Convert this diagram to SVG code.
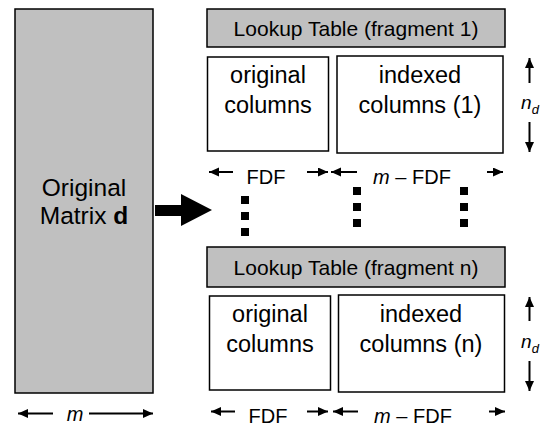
<svg xmlns="http://www.w3.org/2000/svg" width="546" height="426" viewBox="0 0 546 426">
<defs>
<style>
.box{fill:#fff;stroke:#000;stroke-width:1.5}
.gray{fill:#c0c0c0;stroke:#000;stroke-width:1.5}
.t{font-family:"Liberation Sans",Arial,sans-serif;fill:#000;text-anchor:middle}
.big{font-size:23.5px}
.lt{font-size:21px}
.dim{font-size:20px}
.ln{stroke:#000;stroke-width:2;fill:none;marker-end:url(#ah)}
.dot{fill:#000}
</style>
<marker id="ah" markerUnits="userSpaceOnUse" markerWidth="12" markerHeight="10" refX="10" refY="4.5" orient="auto">
<path d="M0,0 L10,4.5 L0,9 Z" fill="#000"/>
</marker>
</defs>

<g id="matrix">
<rect class="gray" x="15" y="9" width="138" height="384"/>
<text class="t" x="84" y="196" style="font-size:24.5px">Original</text>
<text class="t" x="84" y="224" style="font-size:24.5px">Matrix <tspan font-weight="bold">d</tspan></text>
</g>

<g id="arrow-main">
<polygon points="155,205 181,205 181,194 212,210 181,226 181,216 155,216" fill="#000"/>
</g>

<g id="lookup1">
<rect class="gray" x="207" y="9" width="298" height="38"/>
<text class="t lt" x="356" y="36">Lookup Table (fragment 1)</text>
</g>
<g id="orig1">
<rect class="box" x="207.5" y="57" width="121" height="94"/>
<text class="t big" x="268" y="83">original</text>
<text class="t big" x="268" y="113">columns</text>
</g>
<g id="idx1">
<rect class="box" x="337" y="56" width="166" height="97"/>
<text class="t big" x="420" y="83">indexed</text>
<text class="t big" x="420" y="113">columns (1)</text>
</g>

<g id="lookupn">
<rect class="gray" x="207" y="247" width="298" height="40"/>
<text class="t lt" x="356" y="275">Lookup Table (fragment n)</text>
</g>
<g id="orign">
<rect class="box" x="209.5" y="296" width="121" height="94"/>
<text class="t big" x="270" y="322">original</text>
<text class="t big" x="270" y="352">columns</text>
</g>
<g id="idxn">
<rect class="box" x="338.5" y="295" width="166" height="97"/>
<text class="t big" x="421" y="322">indexed</text>
<text class="t big" x="421" y="352">columns (n)</text>
</g>

<g id="dots">
<rect class="dot" x="241" y="196" width="8" height="8"/>
<rect class="dot" x="241" y="212" width="8" height="8"/>
<rect class="dot" x="241" y="228" width="8" height="8"/>
<rect class="dot" x="353" y="187" width="8" height="8"/>
<rect class="dot" x="353" y="203" width="8" height="8"/>
<rect class="dot" x="353" y="219" width="8" height="8"/>
<rect class="dot" x="460" y="187" width="8" height="8"/>
<rect class="dot" x="460" y="203" width="8" height="8"/>
<rect class="dot" x="460" y="219" width="8" height="8"/>
</g>

<g id="connectors">
<line class="ln" x1="233" y1="172" x2="209" y2="172"/>
<line class="ln" x1="307" y1="172" x2="328" y2="172"/>
<line class="ln" x1="357" y1="172" x2="331" y2="172"/>
<line class="ln" x1="487" y1="172" x2="503" y2="172"/>
<line class="ln" x1="235" y1="411.5" x2="211" y2="411.5"/>
<line class="ln" x1="307" y1="411.5" x2="328" y2="411.5"/>
<line class="ln" x1="358" y1="411.5" x2="333" y2="411.5"/>
<line class="ln" x1="489" y1="411.5" x2="505" y2="411.5"/>
<line class="ln" x1="53" y1="413.5" x2="18" y2="413.5"/>
<line class="ln" x1="89" y1="413.5" x2="153" y2="413.5"/>
<line class="ln" x1="529.5" y1="83" x2="529.5" y2="58"/>
<line class="ln" x1="529.5" y1="122" x2="529.5" y2="152"/>
<line class="ln" x1="529.5" y1="321" x2="529.5" y2="297"/>
<line class="ln" x1="529.5" y1="361" x2="529.5" y2="391"/>
</g>

<g id="labels">
<text class="t dim" x="266" y="184">FDF</text>
<text class="t dim" x="412" y="184"><tspan font-style="italic">m</tspan> – FDF</text>
<text class="t dim" x="268" y="423">FDF</text>
<text class="t dim" x="413" y="423"><tspan font-style="italic">m</tspan> – FDF</text>
<text class="t dim" x="75" y="421" font-style="italic">m</text>
<text class="t" x="530" y="109" style="font-size:19px;font-style:italic">n<tspan font-size="13px" dy="5">d</tspan></text>
<text class="t" x="530" y="348" style="font-size:19px;font-style:italic">n<tspan font-size="13px" dy="5">d</tspan></text>
</g>
</svg>
